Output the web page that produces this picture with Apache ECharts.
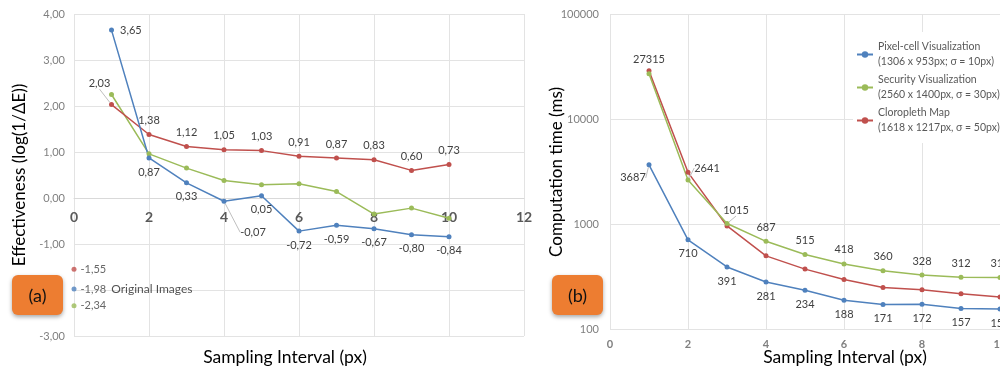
<!DOCTYPE html>
<html>
<head>
<meta charset="utf-8">
<script src="https://cdn.jsdelivr.net/npm/echarts@6/dist/echarts.min.js"></script>
<style>
  html, body { margin: 0; padding: 0; background: #fff; }
  #chart { width: 1000px; height: 369px; }
</style>
</head>
<body>
<div id="chart"></div>
<script>
// Sampling intervals (px)
const intervals = [1, 2, 3, 4, 5, 6, 7, 8, 9, 10];

// (a) Effectiveness, log(1/ΔE)
const effPixelCell = [3.65, 0.87, 0.33, -0.07, 0.05, -0.72, -0.59, -0.67, -0.80, -0.84];
const effSecurity  = [2.25, 0.96, 0.65, 0.38, 0.29, 0.31, 0.14, -0.35, -0.22, -0.44];
const effCloropleth = [2.03, 1.38, 1.12, 1.05, 1.03, 0.91, 0.87, 0.83, 0.60, 0.73];
// Original images (interval 0)
const origPixelCell = -1.98;
const origSecurity = -2.34;
const origCloropleth = -1.55;

// (b) Computation time (ms)
const timePixelCell = [3687, 710, 391, 281, 234, 188, 171, 172, 157, 155];
const timeSecurity  = [27315, 2641, 1015, 687, 515, 418, 360, 328, 312, 310];
const timeCloropleth = [29100, 3130, 963, 499, 373, 297, 249, 237, 217, 202];

const seriesNames = ['Pixel-cell Visualization', 'Security Visualization', 'Cloropleth Map'];
const seriesDetails = ['(1306 x 953px; σ = 10px)', '(2560 x 1400px, σ = 30px)', '(1618 x 1217px, σ = 50px)'];

const BLUE = '#4F81BD', GREEN = '#9BBB59', RED = '#C0504D';
const FONT = 'Lato';
const LABEL_COLOR = '#404040';

// Effectiveness axis range; the interval axis sits on its zero line
const EFF_MIN = -3, EFF_MAX = 4;
const GRID_A = { left: 74, top: 14, width: 450, height: 322 };
const zeroOffset = -GRID_A.height * (0 - EFF_MIN) / (EFF_MAX - EFF_MIN);

// label placement per point: string = side, object = moved with guide line
const placeEffBlue = [{ pos: 'right', off: [0, 6] }, 'bottom', 'bottom', { dx: 29, dy: 31 }, 'bottom', 'bottom', 'bottom', 'bottom', 'bottom', 'bottom'];
const placeEffRed = [{ dx: -12, dy: -21 }, 'top', 'top', 'top', 'top', 'top', 'top', 'top', 'top', 'top'];
const placeTimeBlue = [{ dx: -16, dy: 13 }, 'bottom', 'bottom', 'bottom', 'bottom', 'bottom', 'bottom', 'bottom', 'bottom', 'bottom'];
const placeTimeGreen = ['top', { dx: 19, dy: -12 }, { dx: 9, dy: -13 }, 'top', 'top', 'top', 'top', 'top', 'top', 'top'];

function buildData(values, placement) {
  return values.map((v, i) => {
    const item = { value: [intervals[i], v] };
    const p = placement ? placement[i] : null;
    if (typeof p === 'string') {
      item.label = { position: p };
    } else if (p && p.pos) {
      item.label = { position: p.pos, offset: p.off };
    } else if (p) {
      item.label = { position: 'inside' };
      item.labelLine = { show: true, lineStyle: { color: '#bfbfbf', width: 1 } };
    }
    return item;
  });
}

function layoutFor(placement) {
  return function (params) {
    const p = placement[params.dataIndex];
    if (p && typeof p === 'object' && p.dx !== undefined) return { dx: p.dx, dy: p.dy };
    return {};
  };
}

const commaFmt = p => p.value[1].toFixed(2).replace('.', ',');
const intFmt = p => String(p.value[1]);

function lineSeries(name, color, values, grid, placement, fmt) {
  const s = {
    name: name,
    type: 'line',
    xAxisIndex: grid, yAxisIndex: grid,
    data: buildData(values, placement),
    symbol: 'circle', symbolSize: 5,
    lineStyle: { color: color, width: 1.5 },
    itemStyle: { color: color },
    animation: false,
    label: { show: false }
  };
  if (placement) {
    s.label = {
      show: true, formatter: fmt, fontFamily: FONT, fontSize: 11, color: LABEL_COLOR, distance: 6
    };
    s.labelLayout = layoutFor(placement);
  }
  return s;
}

function originalPoint(name, color, value, withCaption) {
  const v = value.toFixed(2).replace('.', ',');
  return {
    name: name,
    type: 'scatter',
    xAxisIndex: 0, yAxisIndex: 0,
    data: [[0, value]],
    symbol: 'circle', symbolSize: 5,
    itemStyle: { color: color },
    animation: false,
    label: {
      show: true, position: 'right', distance: 4,
      fontFamily: FONT, fontSize: 11, color: LABEL_COLOR,
      formatter: withCaption ? '{v|' + v + '}{t|Original Images}' : v,
      rich: {
        v: { fontFamily: FONT, fontSize: 11, color: LABEL_COLOR },
        t: { fontFamily: FONT, fontSize: 12, color: '#262626', padding: [0, 0, 0, 5] }
      }
    }
  };
}

const gridLine = { show: true, lineStyle: { color: '#e3e3e3', width: 1 } };

const option = {
  backgroundColor: '#ffffff',
  animation: false,
  grid: [
    Object.assign({ outerBoundsMode: 'none' }, GRID_A),
    { left: 610, top: 14.7, width: 468, height: 314.3, outerBoundsMode: 'none' }
  ],
  xAxis: [
    {
      gridIndex: 0, type: 'value', min: 0, max: 12, interval: 2,
      position: 'bottom', offset: zeroOffset,
      axisLine: { show: true, onZero: false, lineStyle: { color: '#d9d9d9' } },
      axisTick: { show: false },
      axisLabel: { margin: 12, fontFamily: FONT, fontSize: 14, fontWeight: 'bold', color: '#595959' },
      splitLine: gridLine
    },
    {
      gridIndex: 1, type: 'value', min: 0, max: 12, interval: 2,
      axisLine: { show: false },
      axisTick: { show: false },
      axisLabel: { margin: 10, fontFamily: FONT, fontSize: 11, fontWeight: 'bold', color: '#7f7f7f' },
      splitLine: gridLine
    }
  ],
  yAxis: [
    {
      gridIndex: 0, type: 'value', min: EFF_MIN, max: EFF_MAX, interval: 1,
      axisLine: { show: false }, axisTick: { show: false },
      axisLabel: { margin: 9, fontFamily: FONT, fontSize: 11, color: '#7f7f7f',
        formatter: v => (v === -2 ? '' : v.toFixed(2).replace('.', ',')) },
      splitLine: gridLine
    },
    {
      gridIndex: 1, type: 'log', logBase: 10, min: 100, max: 100000,
      axisLine: { show: false }, axisTick: { show: false },
      axisLabel: { margin: 11, fontFamily: FONT, fontSize: 11, color: '#7f7f7f',
        formatter: v => String(Math.round(v)) },
      splitLine: gridLine,
      minorSplitLine: { show: false }
    }
  ],
  legend: {
    data: seriesNames,
    orient: 'vertical',
    left: 853, top: 32,
    itemWidth: 16, itemHeight: 8, itemGap: -12,
    backgroundColor: '#ffffff',
    padding: [0, 4, 0, 3],
    formatter: name => name + '\n' + seriesDetails[seriesNames.indexOf(name)],
    textStyle: { fontFamily: FONT, fontSize: 10.5, color: '#595959', lineHeight: 15, padding: [15, 0, 0, 0] }
  },
  series: [
    lineSeries(seriesNames[1], GREEN, effSecurity, 0, null, commaFmt),
    lineSeries(seriesNames[2], RED, effCloropleth, 0, placeEffRed, commaFmt),
    lineSeries(seriesNames[0], BLUE, effPixelCell, 0, placeEffBlue, commaFmt),
    originalPoint(seriesNames[2], RED, origCloropleth, false),
    originalPoint(seriesNames[0], BLUE, origPixelCell, true),
    originalPoint(seriesNames[1], GREEN, origSecurity, false),
    lineSeries(seriesNames[0], BLUE, timePixelCell, 1, placeTimeBlue, intFmt),
    lineSeries(seriesNames[2], RED, timeCloropleth, 1, null, intFmt),
    lineSeries(seriesNames[1], GREEN, timeSecurity, 1, placeTimeGreen, intFmt)
  ],
  graphic: [
    // axis titles
    { type: 'text', x: 20, y: 175, rotation: Math.PI / 2, z: 10,
      style: { text: 'Effectiveness (log(1/ΔE))', font: '17px ' + FONT, fill: '#000', align: 'center', verticalAlign: 'middle' } },
    { type: 'text', x: 285, y: 357, z: 10,
      style: { text: 'Sampling Interval (px)', font: '17.5px ' + FONT, fill: '#000', align: 'center', verticalAlign: 'middle' } },
    { type: 'text', x: 557, y: 172, rotation: Math.PI / 2, z: 10,
      style: { text: 'Computation time (ms)', font: '17px ' + FONT, fill: '#000', align: 'center', verticalAlign: 'middle' } },
    { type: 'text', x: 845, y: 357, z: 10,
      style: { text: 'Sampling Interval (px)', font: '17.5px ' + FONT, fill: '#000', align: 'center', verticalAlign: 'middle' } },
    // panel tags
    { type: 'rect', z: 20, shape: { x: 12, y: 275, width: 51, height: 40, r: 6 },
      style: { fill: '#ED7D31', shadowBlur: 4, shadowOffsetY: 2, shadowColor: 'rgba(0,0,0,0.35)' } },
    { type: 'text', z: 21, x: 37.5, y: 296,
      style: { text: '(a)', font: '18px ' + FONT, fill: '#111', align: 'center', verticalAlign: 'middle' } },
    { type: 'rect', z: 20, shape: { x: 552, y: 275, width: 51, height: 40, r: 6 },
      style: { fill: '#ED7D31', shadowBlur: 4, shadowOffsetY: 2, shadowColor: 'rgba(0,0,0,0.35)' } },
    { type: 'text', z: 21, x: 577.5, y: 296,
      style: { text: '(b)', font: '18px ' + FONT, fill: '#111', align: 'center', verticalAlign: 'middle' } }
  ]
};

const chart = echarts.init(document.getElementById('chart'), null, { renderer: 'canvas' });
chart.setOption(option);
</script>
</body>
</html>
